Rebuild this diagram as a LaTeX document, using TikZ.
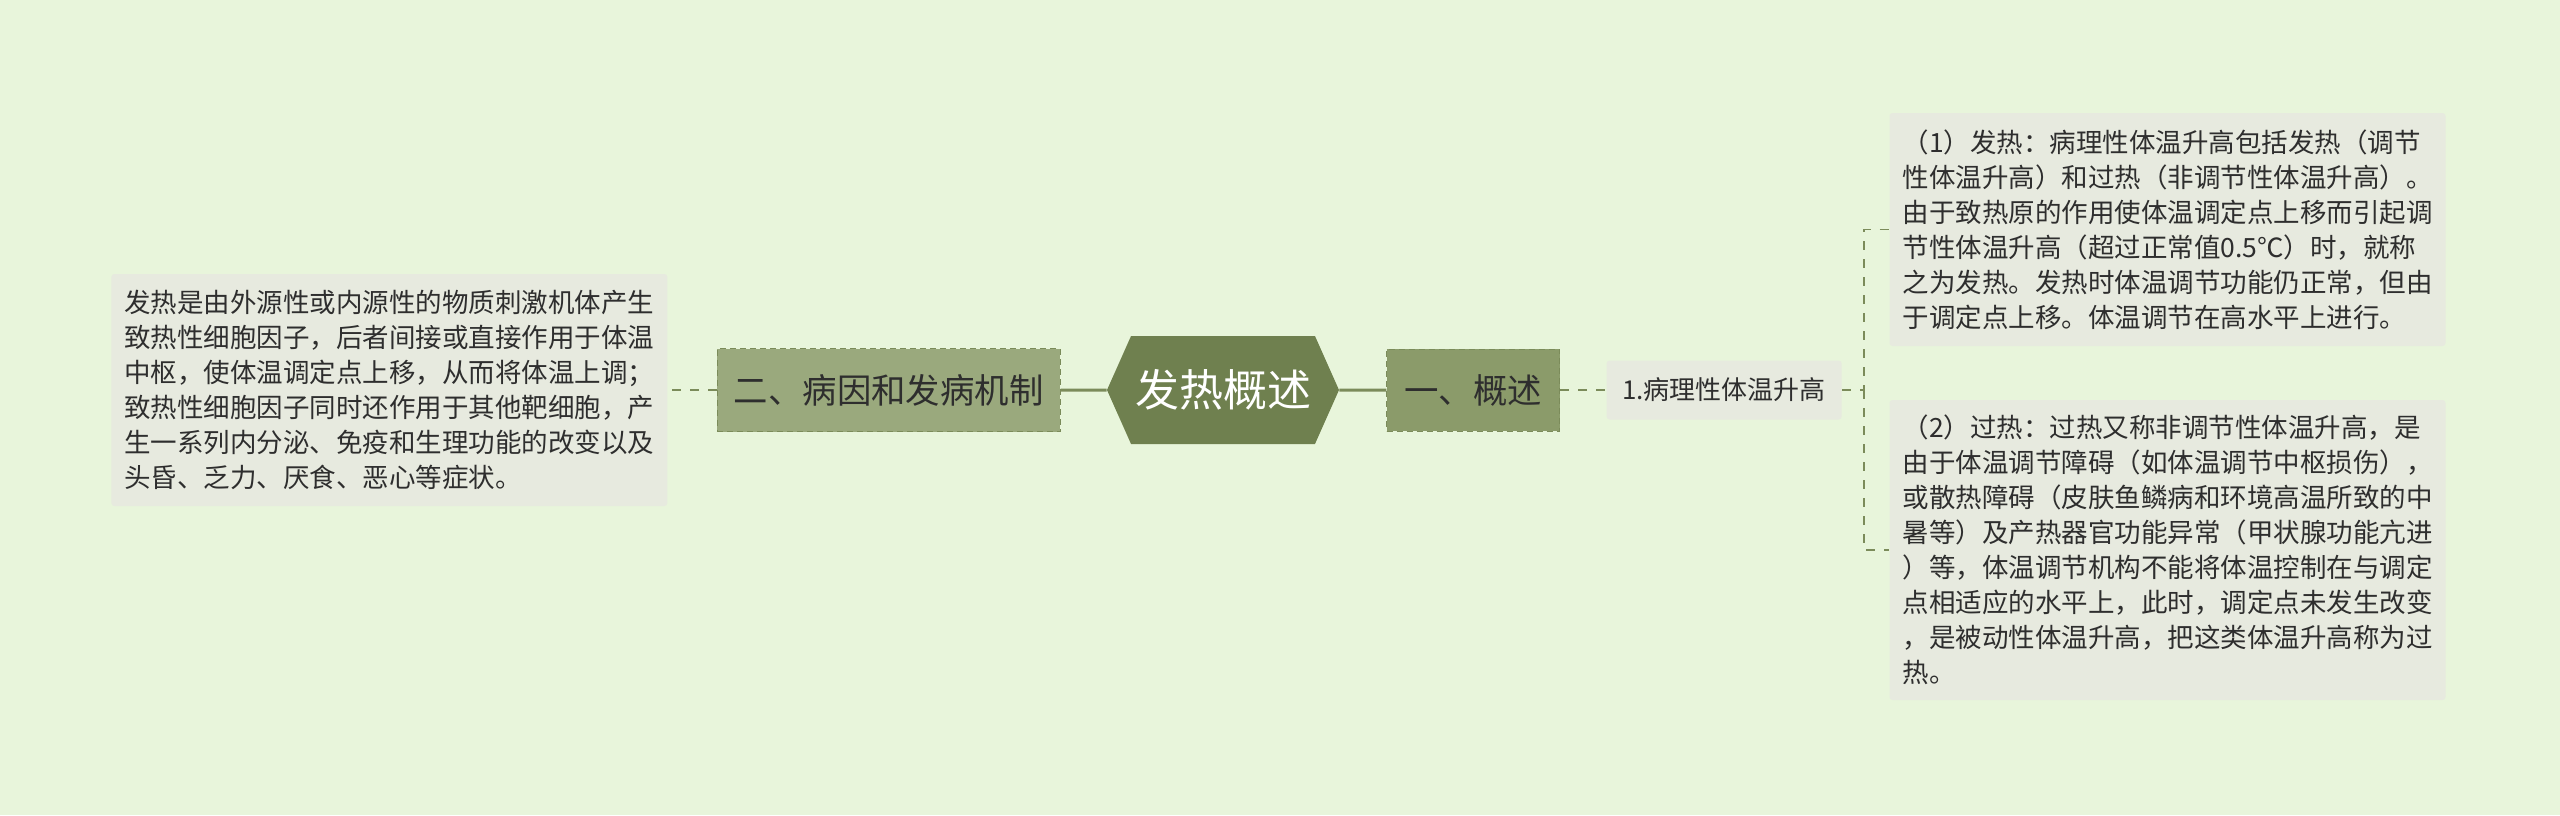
\documentclass[tikz,border=0pt]{standalone}
\usepackage{fontspec}
\newfontfamily\cjk{Noto Sans CJK SC}
\usetikzlibrary{shapes.symbols,positioning}
\definecolor{bgc}{HTML}{E8F5DB}
\definecolor{rootc}{HTML}{6F804F}
\definecolor{subc}{HTML}{8B9B6A}
\definecolor{subbc}{HTML}{9AA97D}
\definecolor{edgec}{HTML}{7B8B5A}
\definecolor{notec}{HTML}{E7EADF}
\definecolor{txtc}{HTML}{2E2E2E}

\begin{document}
\begin{tikzpicture}[x=0.5pt,y=-0.5pt]
\tikzstyle{Root} = [signal, signal to=west and east, signal pointer angle=132, fill=rootc, text=white, minimum width=116pt, minimum height=54pt, inner sep=0pt, font=\cjk\fontsize{22pt}{26pt}\selectfont]
\tikzstyle{Sub} = [rectangle, draw=edgec, dash pattern=on 3pt off 2pt, fill=subc, text=txtc, inner xsep=4pt, minimum width=86.5pt, minimum height=41pt, font=\cjk\fontsize{17.2pt}{21pt}\selectfont]
\tikzstyle{SubB} = [Sub, fill=subbc, minimum width=171.5pt, minimum height=41.5pt]
\tikzstyle{Leaf} = [rectangle, fill=notec, text=txtc, rounded corners=1.5pt, minimum width=117.5pt, minimum height=29.5pt, font=\cjk\fontsize{13pt}{16pt}\selectfont]
\tikzstyle{Note} = [rectangle, fill=notec, text=txtc, rounded corners=1.5pt, align=left, minimum width=278pt, font=\cjk\fontsize{13.25pt}{17.5pt}\selectfont]
\tikzstyle{bold} = [draw=edgec, line width=1.5pt]
\tikzstyle{link} = [draw=edgec, line width=0.8pt, dash pattern=on 4.5pt off 4.5pt]
\useasboundingbox[fill=bgc] (0,0) rectangle (2560,815);
\node[Root] (root) at (1223,390) {发热概述};
\node[Sub][right=23.5pt of root](gs){一、概述};
\node[SubB][left=23pt of root](by){二、病因和发病机制};
\node[Leaf][right=23pt of gs](blx){1.病理性体温升高};
\node[Note, minimum height=116pt][left=24.5pt of by](jz){发热是由外源性或内源性的物质刺激机体产生\\致热性细胞因子，后者间接或直接作用于体温\\中枢，使体温调定点上移，从而将体温上调；\\致热性细胞因子同时还作用于其他靶细胞，产\\生一系列内分泌、免疫和生理功能的改变以及\\头昏、乏力、厌食、恶心等症状。};
\node[Note, minimum height=116.5pt] (fr) at (2167.5,229.5) {（1）发热：病理性体温升高包括发热（调节\\性体温升高）和过热（非调节性体温升高）。\\由于致热原的作用使体温调定点上移而引起调\\节性体温升高（超过正常值0.5℃）时，就称\\之为发热。发热时体温调节功能仍正常，但由\\于调定点上移。体温调节在高水平上进行。};
\node[Note, minimum height=150pt] (gr) at (2167.5,550) {（2）过热：过热又称非调节性体温升高，是\\由于体温调节障碍（如体温调节中枢损伤），\\或散热障碍（皮肤鱼鳞病和环境高温所致的中\\暑等）及产热器官功能异常（甲状腺功能亢进\\）等，体温调节机构不能将体温控制在与调定\\点相适应的水平上，此时，调定点未发生改变\\，是被动性体温升高，把这类体温升高称为过\\热。};
\coordinate (fork) at (1864,390);
\path (root) edge[bold] (gs)
             edge[bold] (by)
      (gs) edge[link] (blx)
      (by) edge[link] (jz);
\draw[link] (blx.east) -- (fork) |- (fr.west);
\draw[link] (fork) |- (gr.west);
\end{tikzpicture}
\end{document}
